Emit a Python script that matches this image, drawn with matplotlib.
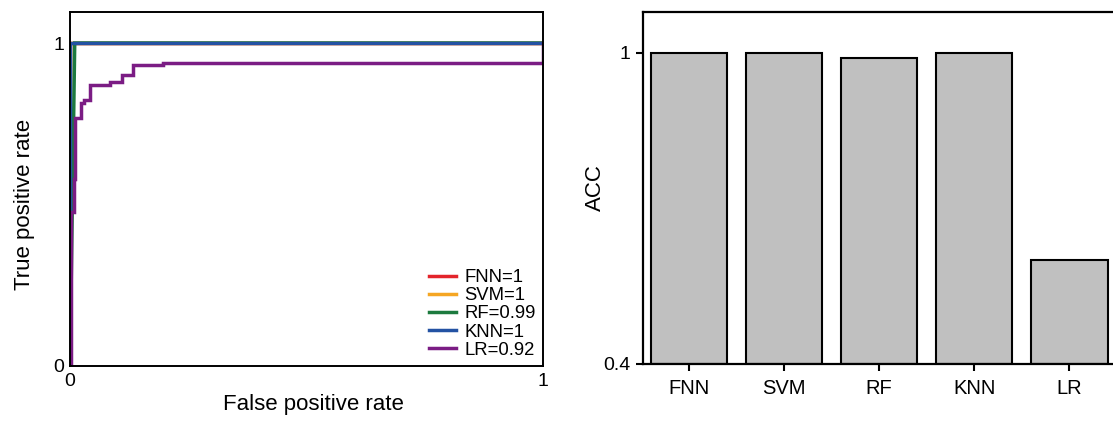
import matplotlib
matplotlib.use("Agg")
import matplotlib.pyplot as plt
import numpy as np

plt.rcParams['font.family'] = ['Liberation Sans', 'DejaVu Sans']

# ---- ROC data ----
roc_labels = ["FNN=1", "SVM=1", "RF=0.99", "KNN=1", "LR=0.92"]
roc_colors = ["#e3242b", "#f5a623", "#1c7a3e", "#2352a3", "#7b1c84"]

fnn_fpr = [0, 0, 1]
fnn_tpr = [0, 1, 1]
svm_fpr = [0, 0, 1]
svm_tpr = [0, 1, 1]
rf_fpr = [0, 0.010, 1]
rf_tpr = [0, 1.0, 1]
knn_fpr = [0, 0, 1]
knn_tpr = [0, 1, 1]
lr_fpr = [0, 0.003, 0.003, 0.008, 0.008, 0.011, 0.011, 0.023, 0.023, 0.030, 0.030,
          0.042, 0.042, 0.085, 0.085, 0.109, 0.109, 0.134, 0.134, 0.197, 0.197, 1.0, 1.0]
lr_tpr = [0, 0, 0.477, 0.477, 0.58, 0.58, 0.767, 0.767, 0.813, 0.813, 0.824,
          0.824, 0.870, 0.870, 0.878, 0.878, 0.901, 0.901, 0.932, 0.932, 0.939, 0.939, 1.0]

roc_fpr = [fnn_fpr, svm_fpr, rf_fpr, knn_fpr, lr_fpr]
roc_tpr = [fnn_tpr, svm_tpr, rf_tpr, knn_tpr, lr_tpr]

# ---- ACC data ----
models = ["FNN", "SVM", "RF", "KNN", "LR"]
acc = [1.0, 1.0, 0.99, 1.0, 0.60]

W, H = 1113, 421
fig = plt.figure(figsize=(W / 100, H / 100), dpi=100)

# Left: ROC
ax1 = fig.add_axes([70 / W, (H - 366) / H, 473 / W, 354 / H])
for fx, ty, c, lab in zip(roc_fpr, roc_tpr, roc_colors, roc_labels):
    ax1.plot(fx, ty, color=c, lw=2.5, label=lab, solid_joinstyle='miter')
ax1.set_xlim(0, 1)
ax1.set_ylim(0, 1.096)
ax1.set_xticks([0, 1])
ax1.set_xticklabels(["0", "1"])
ax1.set_yticks([0, 1])
ax1.set_yticklabels(["0", "1"])
ax1.tick_params(length=0, labelsize=14)
ax1.tick_params(axis='y', pad=4)
ax1.tick_params(axis='x', pad=5)
for s in ax1.spines.values():
    s.set_linewidth(1.4)
ax1.set_xlabel("False positive rate", fontsize=16)
ax1.set_ylabel("True positive rate", fontsize=16)
ax1.xaxis.set_label_coords(0.514, -0.078)
ax1.yaxis.set_label_coords(-0.075, 0.457)
leg = ax1.legend(loc='lower right', frameon=False, fontsize=13.3, handlelength=1.45,
                 handletextpad=0.45, labelspacing=0.06, borderaxespad=0.2,
                 borderpad=0.2)

# Right: ACC bars
ax2 = fig.add_axes([643 / W, (H - 364) / H, 476 / W, 352 / H])
x = np.arange(len(models))
ax2.bar(x, [a - 0.4 for a in acc], bottom=0.4, width=0.8, color="#c0c0c0",
        edgecolor="black", linewidth=1.5)
ax2.set_xlim(-0.48, 4.52)
ax2.set_ylim(0.4, 1.079)
ax2.set_xticks(x)
ax2.set_xticklabels(models)
ax2.set_yticks([0.4, 1.0])
ax2.set_yticklabels(["0.4", "1"])
ax2.tick_params(direction='out', length=5, width=1.5, labelsize=14)
ax2.tick_params(axis='x', pad=6, labelsize=14.5)
ax2.tick_params(axis='y', pad=4)
for s in ax2.spines.values():
    s.set_linewidth(1.6)
ax2.spines['right'].set_visible(False)
ax2.set_ylabel("ACC", fontsize=16)
ax2.yaxis.set_label_coords(-0.078, 0.5)

fig.savefig("out.png", dpi=100)
